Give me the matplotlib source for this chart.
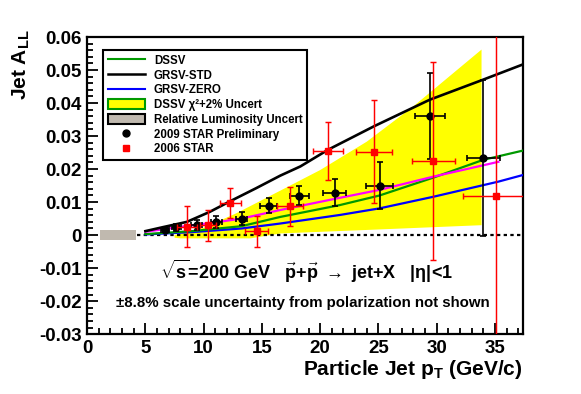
import numpy as np
import matplotlib
matplotlib.use("Agg")
import matplotlib.pyplot as plt
from matplotlib.lines import Line2D
from matplotlib.patches import Patch

plt.rcParams['font.family'] = ['Liberation Sans', 'DejaVu Sans']
plt.rcParams['font.weight'] = 'bold'
plt.rcParams['mathtext.fontset'] = 'custom'
plt.rcParams['mathtext.rm'] = 'Liberation Sans:bold'
plt.rcParams['mathtext.bf'] = 'Liberation Sans:bold'
plt.rcParams['mathtext.it'] = 'Liberation Sans:bold:italic'
plt.rcParams['mathtext.default'] = 'rm'

# ---- data ----
# 2009 STAR Preliminary
star09_x = [6.7, 7.65, 9.4, 11.08, 13.25, 15.57, 18.2, 21.25, 25.1, 29.4, 34.0]
star09_y = [0.0015, 0.0023, 0.0030, 0.0040, 0.0050, 0.0089, 0.0119, 0.0129, 0.0149, 0.0361, 0.0233]
star09_yerr = [0.0006, 0.0012, 0.0015, 0.0018, 0.0019, 0.0023, 0.0029, 0.0042, 0.0071, 0.0129, 0.0236]
star09_xerr = [0.35, 0.4, 0.45, 0.48, 0.5, 0.71, 0.83, 1.0, 1.14, 1.3, 1.43]

# 2006 STAR
star06_x = [8.56, 10.4, 12.3, 14.55, 17.4, 20.68, 24.64, 29.7, 35.07]
star06_y = [0.0026, 0.0030, 0.0098, 0.0011, 0.0088, 0.0255, 0.0253, 0.0225, 0.0117]
star06_yerr = [0.0063, 0.0047, 0.0046, 0.0046, 0.0059, 0.0088, 0.0157, 0.0300, 0.0500]
star06_xerr = [0.83, 0.7, 0.93, 1.0, 1.11, 1.32, 1.55, 1.83, 2.77]

# theory curves
grsv_std_x = [5.0, 6.5, 8.56, 10.5, 12.3, 14.5, 16.57, 18.3, 20.7, 24.64, 29.4, 34.0, 37.4]
grsv_std_y = [0.0012, 0.0024, 0.0040, 0.0070, 0.0103, 0.0142, 0.0180, 0.0208, 0.0259, 0.0330, 0.0410, 0.0471, 0.0517]

dssv_x = [5.0, 9.0, 13.25, 16.57, 21.7, 25.1, 29.7, 34.0, 37.4]
dssv_y = [0.0003, 0.0012, 0.0027, 0.0055, 0.0091, 0.0120, 0.0174, 0.0228, 0.0256]

grsv_zero_x = [5.0, 9.0, 13.25, 16.57, 21.7, 25.1, 29.7, 35.3, 37.4]
grsv_zero_y = [0.0002, 0.0009, 0.0020, 0.0035, 0.0061, 0.0081, 0.0116, 0.0162, 0.0182]

fit_x = [5.0, 8.0, 11.08, 13.25, 16.57, 21.7, 25.1, 29.7, 35.3]
fit_y = [0.0010, 0.0025, 0.0039, 0.0050, 0.0076, 0.0113, 0.0137, 0.0177, 0.0222]

# DSSV chi2+2% uncertainty band
band_up_x = [7.5, 10.0, 12.8, 16.6, 20.0, 24.0, 28.0, 33.85]
band_up_y = [0.0, 0.0022, 0.0066, 0.0135, 0.0197, 0.0283, 0.0390, 0.0562]
band_lo_x = [33.85, 25.0, 16.6, 14.0, 8.0, 7.5]
band_lo_y = [0.0030, 0.0017, 0.0005, -0.0010, -0.0010, -0.0008]

# relative luminosity uncertainty box
lumi_x = [1.1, 4.2]
lumi_y = [-0.0015, 0.0015]

zero_x = [4.25, 37.4]

# ---- figure ----
fig = plt.figure(figsize=(5.81, 3.94), dpi=100)
ax = fig.add_axes([0.150, 0.152, 0.750, 0.754])

ax.fill(band_up_x + band_lo_x, band_up_y + band_lo_y, color='#ffff00', lw=0, zorder=1)
ax.fill([lumi_x[0], lumi_x[1], lumi_x[1], lumi_x[0]],
        [lumi_y[0], lumi_y[0], lumi_y[1], lumi_y[1]], color='#c0b9af', lw=0, zorder=2)
ax.plot(zero_x, [0, 0], color='black', lw=1.6, ls=(0, (1.5, 1.5)), zorder=3)

ax.plot(grsv_zero_x, grsv_zero_y, color='#0000ff', lw=1.6, zorder=4)
ax.plot(dssv_x, dssv_y, color='#009900', lw=1.6, zorder=4)
ax.plot(fit_x, fit_y, color='#ff00ff', lw=1.6, zorder=4)
ax.plot(grsv_std_x, grsv_std_y, color='black', lw=1.9, zorder=4)

ax.errorbar(star09_x, star09_y, yerr=star09_yerr, xerr=star09_xerr, fmt='o',
            color='black', ms=5.0, elinewidth=1.2, capsize=2.0, capthick=1.2, zorder=6)
ax.errorbar(star06_x, star06_y, yerr=star06_yerr, xerr=star06_xerr, fmt='s',
            color='#ff0000', ms=5.0, elinewidth=1.05, capsize=2.0, capthick=1.05, zorder=7)

ax.set_xlim(0, 37.4)
ax.set_ylim(-0.03, 0.06)
ax.set_xticks(np.arange(0, 36, 5))
ax.set_xticks(np.arange(0, 38, 1), minor=True)
ax.set_yticks(np.arange(-0.03, 0.0601, 0.01))
ax.set_yticks(np.arange(-0.03, 0.0601, 0.002), minor=True)
ax.set_yticklabels(['-0.03', '-0.02', '-0.01', '0', '0.01', '0.02', '0.03', '0.04', '0.05', '0.06'])
ax.set_xticklabels([str(v) for v in range(0, 36, 5)])
ax.tick_params(which='both', direction='in', top=False, right=False, width=1.3,
               labelsize=13.5, pad=4)
ax.tick_params(which='major', length=8)
ax.tick_params(which='minor', length=4)
for lab in ax.get_xticklabels() + ax.get_yticklabels():
    lab.set_fontweight('bold')
for s in ax.spines.values():
    s.set_linewidth(1.6)

fig.text(0.036, 1 - 29 / 394, r'Jet A$_{\mathbf{LL}}$', rotation=90, ha='center', va='top',
         fontsize=15, fontweight='bold')
fig.text(523 / 581, 1 - 375 / 394, r'Particle Jet p$_{\mathbf{T}}$ (GeV/c)', ha='right',
         va='baseline', fontsize=15, fontweight='bold')

ax.text(18.8, -0.0111, r'$\sqrt{s}$=200 GeV   $\vec{p}$+$\vec{p}$ $\rightarrow$ jet+X   |$\eta$|<1',
        ha='center', va='center', fontsize=13, fontweight='bold')
ax.text(18.5, -0.0207, '±8.8% scale uncertainty from polarization not shown',
        ha='center', va='center', fontsize=10.8, fontweight='bold')

handles = [
    Line2D([], [], color='#009900', lw=1.5),
    Line2D([], [], color='black', lw=1.8),
    Line2D([], [], color='#0000ff', lw=1.5),
    Patch(facecolor='#ffff00', edgecolor='#009900', lw=1.5),
    Patch(facecolor='#c0b9af', edgecolor='black', lw=1.5),
    Line2D([], [], color='black', marker='o', ls='none', ms=5),
    Line2D([], [], color='#ff0000', marker='s', ls='none', ms=5),
]
labels = ['DSSV', 'GRSV-STD', 'GRSV-ZERO', 'DSSV χ²+2% Uncert', 'Relative Luminosity Uncert',
          '2009 STAR Preliminary', '2006 STAR']
leg = ax.legend(handles, labels, loc='upper left', bbox_to_anchor=(0.037, 0.956),
                borderaxespad=0, frameon=True, fancybox=False, edgecolor='black',
                prop={'family': 'Liberation Sans', 'weight': 'bold', 'size': 8.3},
                handlelength=3.2, handleheight=1.0, handletextpad=0.8, labelspacing=0.23,
                borderpad=0.4, framealpha=1)
leg.get_frame().set_linewidth(1.5)
leg.set_zorder(10)

fig.savefig('out.png', dpi=100)
